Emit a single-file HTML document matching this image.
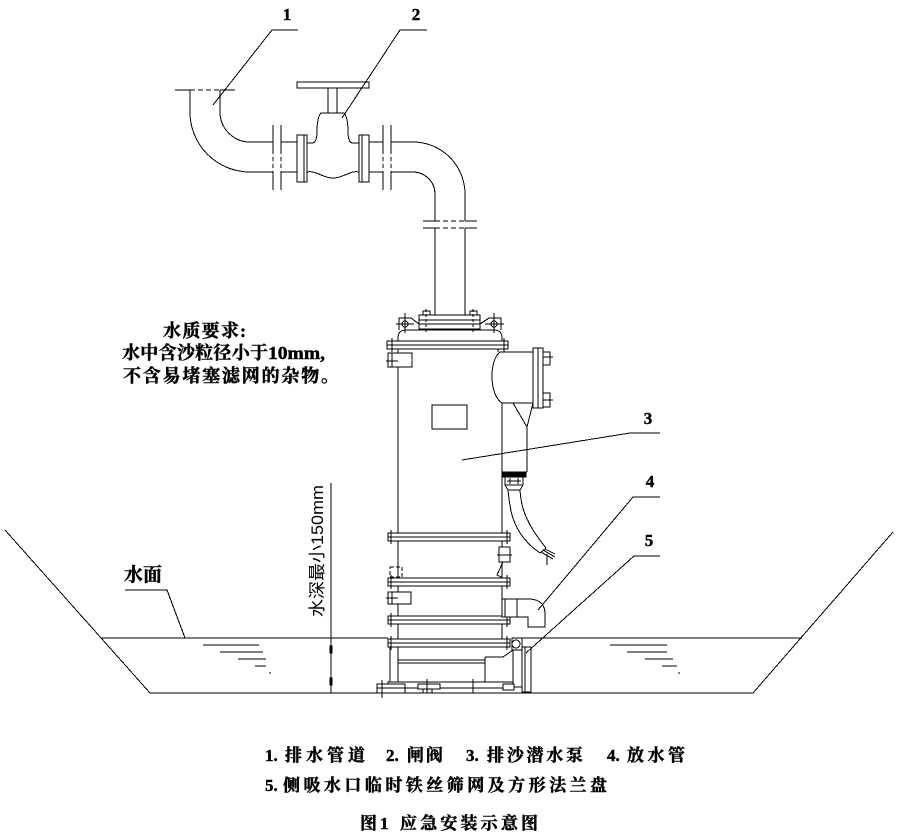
<!DOCTYPE html>
<html><head><meta charset="utf-8">
<style>
html,body{margin:0;padding:0;background:#fff;}
svg{display:block}
.t{font-family:"Liberation Serif","Noto Serif CJK SC",serif;font-weight:bold;fill:#000;stroke:#000;stroke-width:0.45px}
</style></head><body>
<svg width="906" height="834" viewBox="0 0 906 834" xmlns="http://www.w3.org/2000/svg">
<rect width="906" height="834" fill="#fff"/>
<g fill="none" stroke="#000" stroke-width="1" shape-rendering="crispEdges">
<!-- pit and water -->
<polyline points="5,530 150,693 753,693 893,532"/>
<path d="M101,638H388M512,638H802"/>
<path d="M203,645H259M220,652H263M238,659H266M255,666H266M269,673H271"/>
<path d="M610,645H667M627,652H667M645,659H673M662,666H677M678,673H680"/>
<!-- dimension -->
<line x1="331" y1="483" x2="331" y2="693"/>
<rect x="330" y="646" width="2" height="7" fill="#000"/>
<rect x="330" y="678" width="2" height="7" fill="#000"/>

<!-- inlet pipe -->
<path d="M175,90H190M220,90H235"/>
<path d="M190,90H220" stroke-dasharray="5,3"/>
<path d="M190,90V112A60,60 0 0 0 250,172H273"/>
<path d="M220,90V112A30,30 0 0 0 250,142H273"/>
<path d="M273,125V150M281,125V150M273,172V190M281,172V190"/>
<path d="M273,150V172M281,150V172" stroke-dasharray="4,3"/>
<path d="M281,142H297M281,172H297"/>
<rect x="297" y="135" width="10" height="47"/>
<line x1="304" y1="135" x2="304" y2="182"/>
<path d="M307,143H312C316,143 317,138 317,130C317,121 319,115 321,113H344C346,115 348,121 348,130C348,138 349,143 353,143H359"/>
<path d="M307,172C316,170 322,178 333,178C344,178 350,170 359,172"/>
<path d="M328,88V113M337,88V113"/>
<rect x="297" y="82" width="72" height="6"/>
<rect x="359" y="135" width="10" height="47"/>
<line x1="362" y1="135" x2="362" y2="182"/>
<path d="M369,142H383M369,172H383"/>
<path d="M383,125V150M391,125V150M383,172V190M391,172V190"/>
<path d="M383,150V172M391,150V172" stroke-dasharray="4,3"/>
<path d="M391,142H413A52,52 0 0 1 465,194V221"/>
<path d="M391,172H413A22,22 0 0 1 435,194V221"/>
<path d="M423,221H435M465,221H477M423,228H435M465,228H477"/>
<path d="M435,221H465M435,228H465" stroke-dasharray="5,3"/>
<path d="M435,228V315M465,228V315"/>

<!-- pump top -->
<rect x="423" y="311" width="7" height="4"/>
<rect x="470" y="311" width="7" height="4"/>
<rect x="419" y="315" width="61" height="14"/>
<path d="M419,320H480M419,324H480"/>
<path d="M426,309V333M473,309V333" stroke-dasharray="3,2"/>
<path d="M399,330V318H411L419,324"/>
<circle cx="405" cy="324" r="3"/>
<path d="M405,313V333M396,324H414"/>
<path d="M501,330V318H489L480,324"/>
<circle cx="494" cy="324" r="3"/>
<path d="M494,313V333M485,324H504"/>
<path d="M398,341V338Q398,330 406,330H494Q502,330 502,338V341"/>
<!-- body -->
<path d="M398,349V682"/>
<path d="M498,349V352"/>
<path d="M502,403V639"/>
<rect x="387" y="341" width="121" height="8" fill="#fff"/>
<path d="M387,345H508"/>
<path d="M392,338V352M504,338V352"/>
<rect x="388" y="353" width="24" height="14" fill="#fff"/>
<path d="M392,353V367M386,361H398"/>
<rect x="432" y="405" width="35" height="24"/>
<!-- outlet -->
<path d="M500,352H533M502,403H533M500,352C489,360 489,395 502,403"/>
<rect x="533" y="348" width="10" height="60"/>
<path d="M538,348V408"/>
<rect x="543" y="352" width="7" height="13"/>
<rect x="543" y="393" width="7" height="14"/>
<path d="M543,357H553M543,400H553"/>
<path d="M527,427V472M502,472H527M513,403L527,427L533,403"/>
<rect x="502" y="472" width="24" height="5" fill="#000"/>
<rect x="505" y="477" width="18" height="8"/>
<path d="M507,481H521M510,478V484M518,478V484"/>
<path d="M505,485L508,490H520L523,485"/>
<!-- hose -->
<path d="M508,490C510,510 512,520 520,533C527,543 533,548 540,553"/>
<path d="M520,490C521,505 524,515 533,530C538,538 542,543 546,548"/>
<path d="M540,553L546,548M541,552L553,559M543,550L555,557M545,549L555,554M547,554V565"/>

<!-- flanges -->
<rect x="388" y="533" width="122" height="8" fill="#fff"/><path d="M388,537H510M391,530V544M507,530V544"/>
<rect x="388" y="578" width="122" height="8" fill="#fff"/><path d="M388,582H510M391,575V589M507,575V589"/>
<rect x="388" y="616" width="122" height="8" fill="#fff"/><path d="M388,620H510M391,613V627M507,613V627"/>
<rect x="388" y="639" width="122" height="8" fill="#fff"/><path d="M388,643H510M391,636V650M507,636V650"/>

<!-- small side parts -->
<rect x="390" y="567" width="12" height="10" stroke-dasharray="4,2"/>
<rect x="388" y="592" width="23" height="12" fill="#fff"/>
<path d="M392,592V604M386,598H398"/>
<rect x="499" y="547" width="11" height="15" fill="#fff"/>
<path d="M497,555H512M503,562L497,575L503,578"/>
<!-- discharge elbow -->
<rect x="502" y="599" width="15" height="18" fill="#fff"/>
<path d="M505,599V617"/>
<path d="M517,599H530Q545,600 545,614V627H528V617H517"/>

<!-- bottom section -->
<path d="M390,647V682"/>
<path d="M398,660H485M398,663H485"/>
<path d="M485,657V682M485,657H503L513,650"/>
<rect x="512" y="638" width="10" height="12" fill="#fff"/>
<circle cx="516" cy="644" r="4"/>
<rect x="513" y="650" width="9" height="37"/>
<rect x="522" y="647" width="9" height="45" fill="#fff"/>
<path d="M525,647V692"/>
<rect x="388" y="682" width="125" height="6" fill="#fff"/>
<rect x="377" y="684" width="28" height="9" fill="#fff"/>
<path d="M377,688H405"/>
<rect x="503" y="684" width="11" height="6" fill="#fff"/>
<rect x="418" y="684" width="22" height="5" fill="#fff"/>
<rect x="423" y="689" width="9" height="4"/>
<path d="M382,680V698M427,679V693M473,679V693"/>

<!-- leaders -->
<polyline points="298,30 272,30 213,105"/>
<polyline points="427,30 400,30 342,118"/>
<polyline points="660,433 630,433 462,460"/>
<polyline points="660,497 633,497 538,610"/>
<polyline points="660,556 634,556 526,653"/>
<polyline points="125,590 167,590 185,638"/>
</g>

<!-- labels -->
<text class="t" x="287" y="20" font-size="17" text-anchor="middle">1</text>
<text class="t" x="416" y="20" font-size="17" text-anchor="middle">2</text>
<text class="t" x="648" y="424" font-size="17" text-anchor="middle">3</text>
<text class="t" x="650" y="487" font-size="17" text-anchor="middle">4</text>
<text class="t" x="649" y="546" font-size="17" text-anchor="middle">5</text>

<text class="t" x="124" y="581" font-size="19">水面</text>

<text class="t" x="163" y="337" font-size="18" textLength="76">水质要求</text>
<text class="t" x="240" y="337" font-size="18">:</text>
<text class="t" x="122" y="359" font-size="18" textLength="146">水中含沙粒径小于</text>
<text class="t" x="268" y="359" font-size="18" textLength="57" lengthAdjust="spacingAndGlyphs">10mm,</text>
<text class="t" x="123" y="382" font-size="18" textLength="216">不含易堵塞滤网的杂物。</text>

<text transform="translate(323,617) rotate(-90)" font-family="'Liberation Sans','Noto Sans CJK SC',sans-serif" font-size="17" fill="#000" textLength="132" lengthAdjust="spacingAndGlyphs">水深最小150mm</text>

<!-- legend -->
<text class="t" x="265" y="761" font-size="17">1.</text>
<text class="t" x="285" y="761" font-size="17" textLength="80">排水管道</text>
<text class="t" x="386" y="761" font-size="17">2.</text>
<text class="t" x="407" y="761" font-size="17" textLength="36">闸阀</text>
<text class="t" x="466" y="761" font-size="17">3.</text>
<text class="t" x="487" y="761" font-size="17" textLength="96">排沙潜水泵</text>
<text class="t" x="607" y="761" font-size="17">4.</text>
<text class="t" x="627" y="761" font-size="17" textLength="58">放水管</text>
<text class="t" x="265" y="791" font-size="17">5.</text>
<text class="t" x="283" y="791" font-size="17" textLength="324">侧吸水口临时铁丝筛网及方形法兰盘</text>
<text class="t" x="360" y="829" font-size="17">图</text>
<text class="t" x="380" y="829" font-size="17">1</text>
<text class="t" x="400" y="829" font-size="17" textLength="138">应急安装示意图</text>
</svg>
</body></html>
